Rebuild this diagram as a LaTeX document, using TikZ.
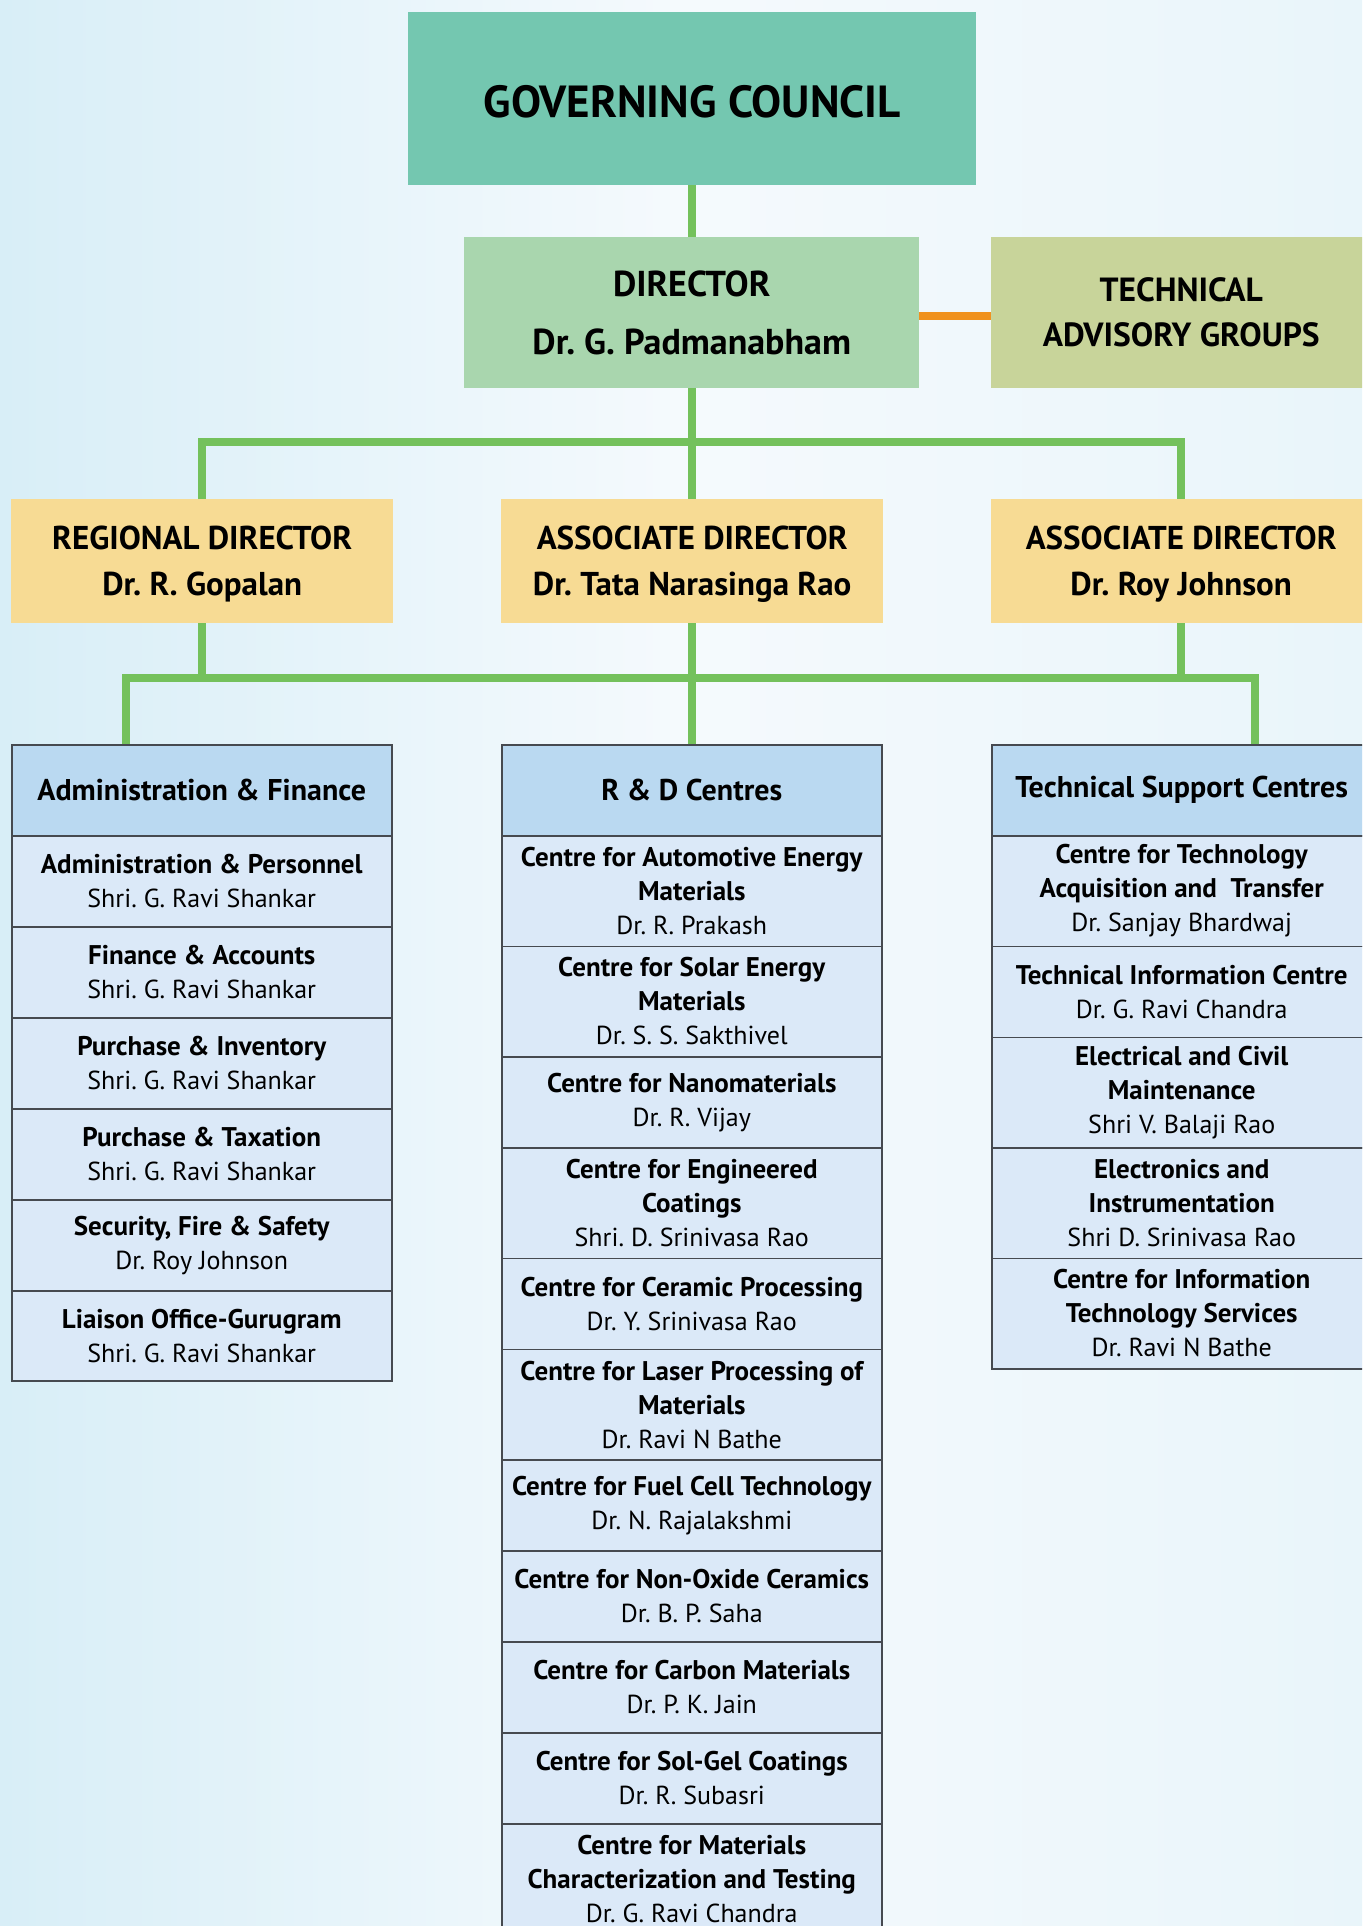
\documentclass[tikz,border=0pt]{standalone}
\usepackage{fontspec}
\setmainfont{PT Sans}
\definecolor{bgL}{RGB}{216,238,247}
\definecolor{bgM}{RGB}{245,250,253}
\definecolor{bgR}{RGB}{233,245,250}
\definecolor{gcfill}{RGB}{116,199,176}
\definecolor{dirfill}{RGB}{169,214,174}
\definecolor{tagfill}{RGB}{200,212,154}
\definecolor{yelfill}{RGB}{247,219,148}
\definecolor{headfill}{RGB}{186,217,241}
\definecolor{rowfill}{RGB}{219,233,248}
\definecolor{cellline}{RGB}{70,74,80}
\definecolor{conngreen}{RGB}{116,193,92}
\definecolor{connorange}{RGB}{240,146,30}
\newcommand\rowfont{\fontsize{26}{34}\selectfont}
\newcommand\headfont{\fontsize{30}{34}\selectfont\bfseries}
\newcommand\bl[1]{{\fontsize{27}{34}\selectfont\bfseries #1}}
\newcommand\orgcell[5]{\node[cell, minimum height=#4] (#1) at (#2,#3) {#5};}
\newcommand\lowstrut{\rule{0pt}{30pt}}
\begin{document}
\frenchspacing
\begin{tikzpicture}[x=1pt,y=-1pt,
  topbox/.style={inner sep=0pt, align=center, anchor=north west, text=black, font=\bfseries},
  cell/.style={draw=cellline, line width=1.5pt, fill=rowfill, inner sep=0pt, anchor=north west, align=center, minimum width=380, font=\rowfont},
  headcell/.style={cell, fill=headfill, font=\headfont, minimum height=91},
  conn/.style={draw=conngreen, line width=8pt},
  orangeconn/.style={draw=connorange, line width=8pt}]
\useasboundingbox (0,0) rectangle (1362,1926);
\clip (0,0) rectangle (1362,1926);
\shade[left color=bgL, right color=bgR, middle color=bgM] (0,0) rectangle (1362,1926);

% top level
\node[topbox, fill=gcfill, minimum width=568, minimum height=173, font=\fontsize{45}{50}\selectfont\bfseries] (gc) at (408,12) {\rule{0pt}{38pt}GOVERNING COUNCIL};
\node[topbox, fill=dirfill, minimum width=455, minimum height=151, font=\fontsize{36}{58}\selectfont\bfseries] (dir) at (464,237) {DIRECTOR\\Dr. G. Padmanabham};
\node[topbox, fill=tagfill, minimum width=380, minimum height=151, font=\fontsize{33.5}{45}\selectfont\bfseries] (tag) at (991,237) {TECHNICAL\\ADVISORY GROUPS};

% second level
\node[topbox, fill=yelfill, minimum width=382, minimum height=124, font=\fontsize{33}{46}\selectfont\bfseries] (reg) at (11,499) {\lowstrut REGIONAL DIRECTOR\\Dr. R. Gopalan};
\node[topbox, fill=yelfill, minimum width=382, minimum height=124, font=\fontsize{33}{46}\selectfont\bfseries] (as1) at (501,499) {\lowstrut ASSOCIATE DIRECTOR\\Dr. Tata Narasinga Rao};
\node[topbox, fill=yelfill, minimum width=380, minimum height=124, font=\fontsize{33}{46}\selectfont\bfseries] (as2) at (991,499) {\lowstrut ASSOCIATE DIRECTOR\\Dr. Roy Johnson};

% left table
\node[headcell] (lh) at (11,744) {Administration \& Finance};
\orgcell{l1}{11}{835}{91}{\bl{Administration \& Personnel}\\Shri. G. Ravi Shankar}
\orgcell{l2}{11}{926}{91}{\bl{Finance \& Accounts}\\Shri. G. Ravi Shankar}
\orgcell{l3}{11}{1017}{91}{\bl{Purchase \& Inventory}\\Shri. G. Ravi Shankar}
\orgcell{l4}{11}{1108}{91}{\bl{Purchase \& Taxation}\\Shri. G. Ravi Shankar}
\orgcell{l5}{11}{1199}{91}{\bl{Security, Fire \& Safety}\\Dr. Roy Johnson}
\orgcell{l6}{11}{1290}{90}{\bl{Liaison Office-Gurugram}\\Shri. G. Ravi Shankar}

% middle table
\node[headcell] (mh) at (501,744) {R \& D Centres};
\orgcell{m1}{501}{835}{110.5}{\bl{Centre for Automotive Energy}\\\bl{Materials}\\Dr. R. Prakash}
\orgcell{m2}{501}{945.5}{110.5}{\bl{Centre for Solar Energy}\\\bl{Materials}\\Dr. S. S. Sakthivel}
\orgcell{m3}{501}{1056}{91}{\bl{Centre for Nanomaterials}\\Dr. R. Vijay}
\orgcell{m4}{501}{1147}{110.5}{\bl{Centre for Engineered}\\\bl{Coatings}\\Shri. D. Srinivasa Rao}
\orgcell{m5}{501}{1257.5}{91}{\bl{Centre for Ceramic Processing}\\Dr. Y. Srinivasa Rao}
\orgcell{m6}{501}{1348.5}{110.5}{\bl{Centre for Laser Processing of}\\\bl{Materials}\\Dr. Ravi N Bathe}
\orgcell{m7}{501}{1459}{91}{\bl{Centre for Fuel Cell Technology}\\Dr. N. Rajalakshmi}
\orgcell{m8}{501}{1550}{91}{\bl{Centre for Non-Oxide Ceramics}\\Dr. B. P. Saha}
\orgcell{m9}{501}{1641}{91}{\bl{Centre for Carbon Materials}\\Dr. P. K. Jain}
\orgcell{m10}{501}{1732}{91}{\bl{Centre for Sol-Gel Coatings}\\Dr. R. Subasri}
\orgcell{m11}{501}{1823}{110.5}{\bl{Centre for Materials}\\\bl{Characterization and Testing}\\Dr. G. Ravi Chandra}

% right table
\node[headcell] (rh) at (991,744) {Technical Support Centres};
\orgcell{r1}{991}{835}{110.5}{\bl{Centre for Technology}\\\bl{Acquisition and\ \ Transfer}\\Dr. Sanjay Bhardwaj}
\orgcell{r2}{991}{945.5}{91}{\bl{Technical Information Centre}\\Dr. G. Ravi Chandra}
\orgcell{r3}{991}{1036.5}{110.5}{\bl{Electrical and Civil}\\\bl{Maintenance}\\Shri V. Balaji Rao}
\orgcell{r4}{991}{1147}{110.5}{\bl{Electronics and}\\\bl{Instrumentation}\\Shri D. Srinivasa Rao}
\orgcell{r5}{991}{1257.5}{110.5}{\bl{Centre for Information}\\\bl{Technology Services}\\Dr. Ravi N Bathe}

% connectors
\coordinate (bar1) at (691,442);
\coordinate (ljoin) at (126,678);
\coordinate (rjoin) at (1255,678);
\draw[conn] (gc.south) -- (gc.south |- dir.north);
\draw[conn] (dir.south) -- (dir.south |- as1.north);
\draw[conn] (reg.north) |- (bar1) -| (as2.north);
\draw[orangeconn] ([yshift=-3.5]dir.east) -- ([yshift=-3.5]dir.east -| tag.west);
\draw[conn] (lh.north -| ljoin) -- (ljoin) -- (rjoin) -- (rh.north -| rjoin);
\draw[conn] (reg.south) -- (reg.south |- ljoin);
\draw[conn] (as1.south) -- (as1.south |- mh.north);
\draw[conn] (as2.south) -- (as2.south |- rjoin);
\end{tikzpicture}
\end{document}
